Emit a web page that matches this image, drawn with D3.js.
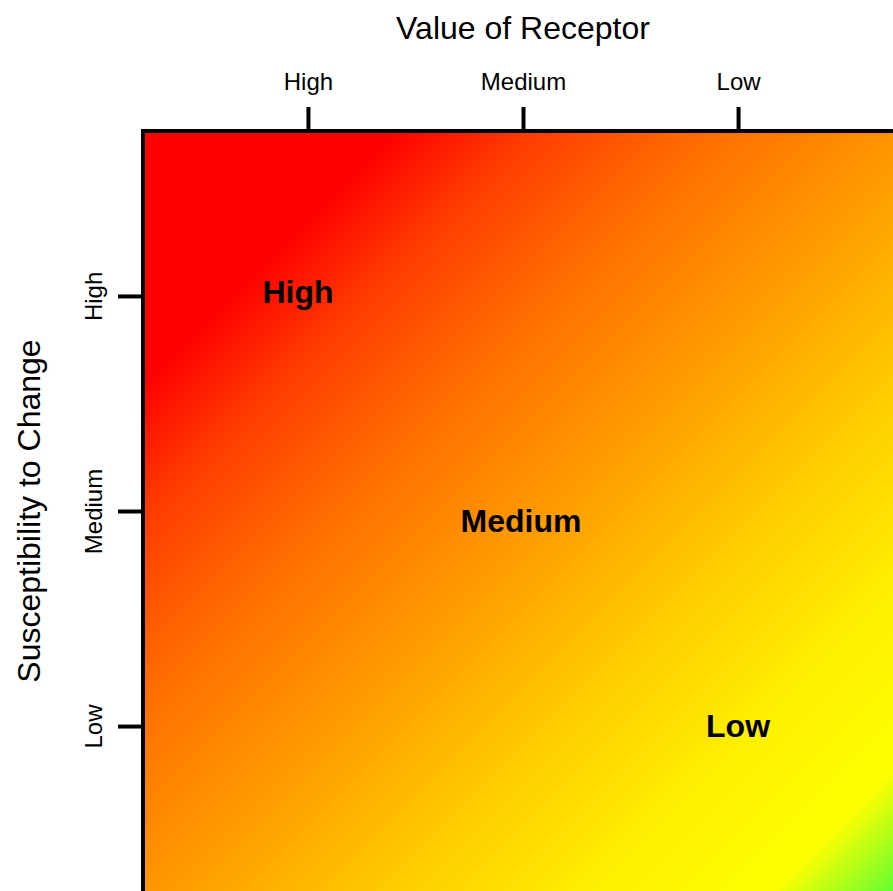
<!DOCTYPE html>
<html>
<head>
<meta charset="utf-8">
<script src="https://cdn.jsdelivr.net/npm/d3@7"></script>
<style>
    body { margin: 0; background: white; overflow: hidden; }
    text { font-family: "Liberation Sans", Arial, sans-serif; }
</style>
</head>
<body>
<div class="graphique"></div>
<script>
// categories for both axes (left to right, top to bottom)
const valueLevels = ["High", "Medium", "Low"];
const susceptLevels = ["High", "Medium", "Low"];

// zone labels placed on the diagonal
const zoneLabels = [
    { value: "High", suscept: "High", text: "High" },
    { value: "Medium", suscept: "Medium", text: "Medium" },
    { value: "Low", suscept: "Low", text: "Low" }
];

// colour ramp: position along diagonal (0..1) and colour
const rampOffsets = [0, 0.162, 0.251, 0.368, 0.536, 0.653, 0.783, 0.896, 0.959, 1];
const rampColors = ["#ff0000", "#ff0000", "#ff3c00", "#ff6e00", "#ffa500", "#ffcd00", "#fff000", "#ffff00", "#82ff28", "#32ff46"];

const width = 893;
const height = 891;
const margin = { top: 131, left: 143 };
const size = 775;
const axisLen = 760;

const svg = d3.select(".graphique")
    .append("svg")
    .attr("width", width)
    .attr("height", height);

const x = d3.scalePoint().domain(valueLevels).range([0, axisLen]).padding(0.767);
const y = d3.scalePoint().domain(susceptLevels).range([0, axisLen]).padding(0.767);

const defs = svg.append("defs");
const grad = defs.append("linearGradient")
    .attr("id", "riskGrad")
    .attr("x1", "0%").attr("y1", "0%")
    .attr("x2", "100%").attr("y2", "100%");

grad.selectAll("stop")
    .data(rampOffsets)
    .enter().append("stop")
    .attr("offset", d => d)
    .attr("stop-color", (d, i) => rampColors[i]);

const g = svg.append("g").attr("transform", `translate(${margin.left},${margin.top})`);

g.append("rect")
    .attr("width", size)
    .attr("height", size)
    .attr("fill", "url(#riskGrad)")
    .attr("stroke", "black")
    .attr("stroke-width", 4);

// top axis
const topAxis = g.append("g")
    .call(d3.axisTop(x).tickSize(24).tickPadding(17));
topAxis.select(".domain").remove();
topAxis.selectAll(".tick line").attr("stroke", "black").attr("stroke-width", 4);
topAxis.selectAll(".tick text")
    .attr("font-size", 24)
    .attr("fill", "black")
    .style("font-family", "Liberation Sans, Arial, sans-serif");

// left axis with rotated labels
const leftAxis = g.append("g")
    .call(d3.axisLeft(y).tickSize(25));
leftAxis.select(".domain").remove();
leftAxis.selectAll(".tick line").attr("stroke", "black").attr("stroke-width", 4);
leftAxis.selectAll(".tick text")
    .attr("x", null).attr("dy", null)
    .attr("transform", "translate(-41,0) rotate(-90)")
    .attr("text-anchor", "middle")
    .attr("font-size", 24)
    .attr("fill", "black")
    .style("font-family", "Liberation Sans, Arial, sans-serif");

// axis titles
svg.append("text")
    .attr("x", margin.left + x("Medium"))
    .attr("y", 39)
    .attr("text-anchor", "middle")
    .attr("font-size", 32)
    .text("Value of Receptor");

svg.append("text")
    .attr("transform", `translate(40,${margin.top + y("Medium")}) rotate(-90)`)
    .attr("text-anchor", "middle")
    .attr("font-size", 32)
    .text("Susceptibility to Change");

// zone labels, nudged slightly like in the original
const nudge = { High: [-10, -4], Medium: [-2, 10], Low: [0, 0] };
g.selectAll(".zone")
    .data(zoneLabels)
    .enter().append("text")
    .attr("class", "zone")
    .attr("x", d => x(d.value) + nudge[d.text][0])
    .attr("y", d => y(d.suscept) + nudge[d.text][1])
    .attr("dy", "0.35em")
    .attr("text-anchor", "middle")
    .attr("font-size", 32)
    .attr("font-weight", "bold")
    .text(d => d.text);
</script>
</body>
</html>
